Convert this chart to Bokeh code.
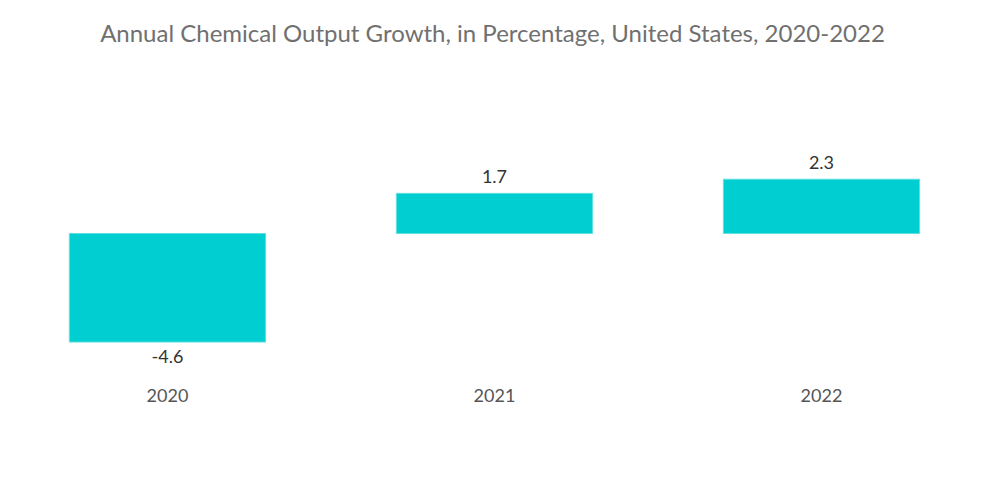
from bokeh.plotting import figure
from bokeh.models import ColumnDataSource, FixedTicker, Range1d
from bokeh.core.properties import value
from bokeh.embed import file_html
from bokeh.resources import INLINE

years = ["2020", "2021", "2022"]
growth = [-4.6, 1.7, 2.3]
labels = ["-4.6", "1.7", "2.3"]

xs = list(range(len(years)))
top = [max(v, 0) for v in growth]
bottom = [min(v, 0) for v in growth]
label_y = growth
offsets = [-10 if v > 0 else 8 for v in growth]
baselines = ["bottom" if v > 0 else "top" for v in growth]

src = ColumnDataSource(dict(x=xs, top=top, bottom=bottom, ly=label_y, lab=labels,
                            off=offsets, base=baselines))

p = figure(width=984, height=488, output_backend="svg", toolbar_location=None,
           x_range=Range1d(-0.5105, 2.4985), y_range=Range1d(-5.805, 7.33),
           min_border_left=0, min_border_right=0, min_border_top=60,
           frame_width=984, frame_height=310)

p.title.text = "Annual Chemical Output Growth, in Percentage, United States, 2020-2022"
p.title.align = "center"
p.title.text_font = "Lato"
p.title.text_font_style = "normal"
p.title.text_font_size = "24px"
p.title.text_color = "#707070"
p.title.standoff = 27

p.vbar(x="x", top="top", bottom="bottom", width=0.6, source=src,
       fill_color="#00CED1", line_color="#5fe0e0", line_width=1)

p.text(x="x", y="ly", text="lab", y_offset="off", text_baseline="base", source=src,
       text_align="center", text_font=value("Lato"), text_font_size="18px",
       text_color="#333333")

p.xaxis.ticker = FixedTicker(ticks=xs)
p.xaxis.major_label_overrides = {i: y for i, y in enumerate(years)}
p.xaxis.major_label_text_font = "Lato"
p.xaxis.major_label_text_font_size = "18px"
p.xaxis.major_label_text_color = "#555555"
p.xaxis.axis_line_color = None
p.xaxis.major_tick_line_color = None
p.xaxis.minor_tick_line_color = None
p.xaxis.major_label_standoff = 12
p.yaxis.visible = False
p.grid.visible = False
p.outline_line_color = None

open("out.html", "w").write(file_html(p, INLINE))
